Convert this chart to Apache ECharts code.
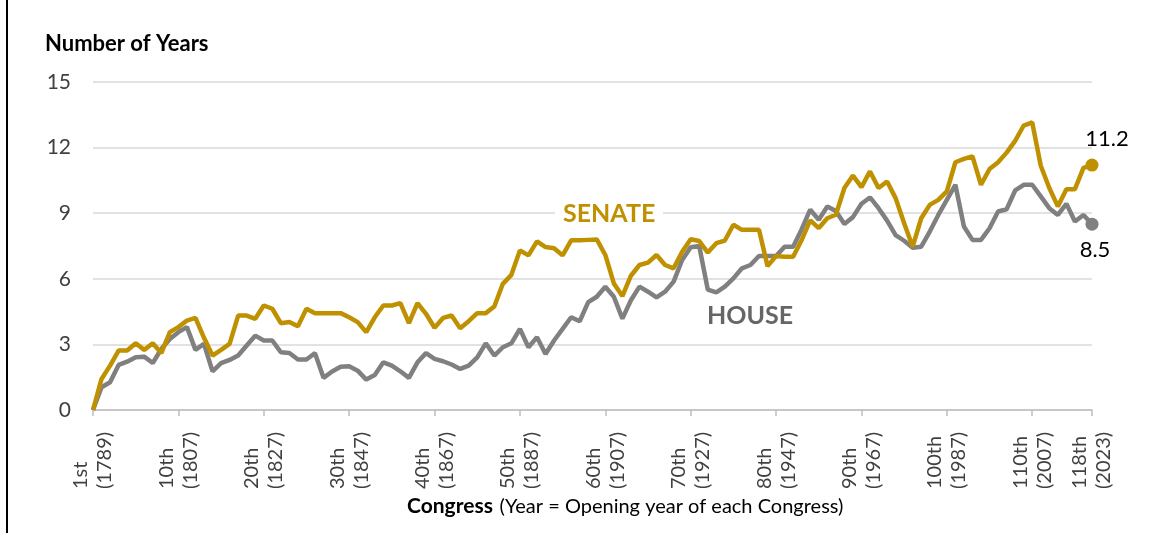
<!DOCTYPE html>
<html>
<head>
<meta charset="utf-8">
<script src="https://cdn.jsdelivr.net/npm/echarts@6/dist/echarts.min.js"></script>
<style>
  html, body { margin: 0; padding: 0; background: #fff; }
  .line { width: 1154px; height: 533px; }
</style>
</head>
<body>
<div class="line"></div>
<script>
// Average years of prior service, by Congress (1st .. 118th)
const senateYears = [
  0, 1.42, 2.03, 2.72, 2.72, 3.05, 2.75, 3.05, 2.6, 3.56,
  3.79, 4.09, 4.21, 3.3, 2.49, 2.75, 3.02, 4.32, 4.32, 4.17,
  4.78, 4.63, 3.97, 4.02, 3.83, 4.63, 4.43, 4.43, 4.43, 4.43,
  4.24, 4.02, 3.56, 4.24, 4.78, 4.78, 4.89, 3.97, 4.89, 4.4,
  3.76, 4.21, 4.32, 3.74, 4.06, 4.43, 4.43, 4.73, 5.77, 6.18,
  7.3, 7.07, 7.71, 7.45, 7.4, 7.07, 7.76, 7.76, 7.78, 7.8,
  7.09, 5.79, 5.21, 6.14, 6.63, 6.74, 7.09, 6.63, 6.48, 7.24,
  7.81, 7.73, 7.2, 7.63, 7.75, 8.47, 8.24, 8.24, 8.24, 6.58,
  7.04, 7.01, 7.01, 7.78, 8.67, 8.32, 8.77, 8.93, 10.15, 10.72,
  10.19, 10.91, 10.15, 10.45, 9.69, 8.54, 7.47, 8.77, 9.38, 9.61,
  10.0, 11.33, 11.48, 11.6, 10.3, 11.02, 11.33, 11.77, 12.31, 13.01,
  13.15, 11.17, 10.15, 9.31, 10.1, 10.1, 11.07, 11.2,
];
const houseYears = [
  0, 1.04, 1.27, 2.06, 2.21, 2.41, 2.44, 2.15, 2.79, 3.25,
  3.56, 3.79, 2.75, 3.02, 1.77, 2.14, 2.29, 2.49, 2.95, 3.4,
  3.18, 3.18, 2.64, 2.61, 2.31, 2.31, 2.6, 1.47, 1.76, 1.98,
  2.0, 1.8, 1.39, 1.6, 2.18, 2.03, 1.77, 1.47, 2.18, 2.6,
  2.34, 2.23, 2.08, 1.88, 2.03, 2.41, 3.05, 2.49, 2.87, 3.05,
  3.71, 2.87, 3.33, 2.56, 3.18, 3.71, 4.24, 4.06, 4.93, 5.18,
  5.64, 5.18, 4.18, 5.02, 5.64, 5.41, 5.15, 5.41, 5.87, 6.86,
  7.44, 7.5, 5.51, 5.38, 5.64, 6.02, 6.48, 6.63, 7.04, 7.04,
  7.04, 7.47, 7.47, 8.27, 9.16, 8.7, 9.31, 9.1, 8.51, 8.82,
  9.43, 9.72, 9.23, 8.66, 8.0, 7.74, 7.42, 7.47, 8.16, 8.92,
  9.61, 10.3, 8.39, 7.78, 7.78, 8.31, 9.08, 9.18, 10.04, 10.3,
  10.3, 9.77, 9.23, 8.92, 9.43, 8.62, 8.92, 8.5,
];

// x labels only shown at these positions
const tickIndex = [0, 10, 20, 30, 40, 50, 60, 70, 80, 90, 100, 110, 117];
const tickLabels = [
  "1st\n(1789)", "10th\n(1807)", "20th\n(1827)", "30th\n(1847)", "40th\n(1867)",
  "50th\n(1887)", "60th\n(1907)", "70th\n(1927)", "80th\n(1947)", "90th\n(1967)",
  "100th\n(1987)", "110th\n(2007)", "118th\n(2023)",
];
const yTicks = [0, 3, 6, 9, 12, 15];

function ordinal(n) {
  let s = ["th", "st", "nd", "rd"];
  let v = n % 100;
  return n + (s[(v - 20) % 10] || s[v] || s[0]);
}
const congresses = senateYears.map((v, i) => ordinal(i + 1));

const GOLD = "#BF9000";
const GRAY = "#808080";
const FONT = "Lato";

function setLine() {
  let myChart = echarts.init(document.querySelector(".line"));

  // last point gets a dot + value label
  function withEnd(arr, labelPos, offset) {
    return arr.map(function (v, i) {
      if (i < arr.length - 1) return v;
      return {
        value: v,
        symbol: "circle",
        symbolSize: 13,
        label: {
          show: true,
          position: labelPos,
          offset: offset,
          formatter: function (p) {
            return p.value.toFixed(1);
          },
          color: "#000",
          fontFamily: FONT,
          fontSize: 22,
        },
      };
    });
  }

  let option = {
    animation: false,
    textStyle: { fontFamily: FONT },
    grid: {
      left: 93,
      right: 62,
      top: 82,
      bottom: 123,
    },
    xAxis: {
      type: "category",
      boundaryGap: false,
      data: congresses,
      axisLine: { lineStyle: { color: "#BFBFBF", width: 1.5 } },
      axisTick: {
        show: true,
        length: 6,
        lineStyle: { color: "#BFBFBF", width: 1.5 },
        interval: function (index) {
          return tickIndex.indexOf(index) >= 0;
        },
      },
      axisLabel: {
        interval: 0,
        rotate: 90,
        align: "left",
        verticalAlign: "middle",
        margin: 79,
        color: "#404040",
        fontFamily: FONT,
        fontSize: 20,
        lineHeight: 24,
        formatter: function (value, index) {
          let k = tickIndex.indexOf(index);
          return k >= 0 ? tickLabels[k] : "";
        },
      },
      splitLine: { show: false },
    },
    yAxis: {
      type: "value",
      min: yTicks[0],
      max: yTicks[yTicks.length - 1],
      interval: 3,
      axisLine: { show: false },
      axisTick: { show: false },
      axisLabel: {
        margin: 22,
        color: "#404040",
        fontFamily: FONT,
        fontSize: 21,
      },
      splitLine: { lineStyle: { color: "#D9D9D9", width: 1.5 } },
    },
    series: [
      {
        name: "House",
        type: "line",
        symbol: "none",
        lineStyle: { color: GRAY, width: 4.5 },
        itemStyle: { color: GRAY },
        data: withEnd(houseYears, "bottom", [3, 3]),
      },
      {
        name: "Senate",
        type: "line",
        symbol: "none",
        lineStyle: { color: GOLD, width: 4.5 },
        itemStyle: { color: GOLD },
        data: withEnd(senateYears, "top", [15, -4]),
      },
    ],
    graphic: [
      {
        type: "text",
        left: 45,
        top: 33,
        style: {
          text: "Number of Years",
          fill: "#000",
          font: "bold 22px " + FONT,
        },
      },
      {
        // white box hides the gridline behind the label
        type: "rect",
        z: 50,
        shape: { x: 555, y: 205, width: 108, height: 18 },
        style: { fill: "#fff" },
      },
      {
        type: "text",
        z: 51,
        left: 563,
        top: 201,
        style: {
          text: "SENATE",
          fill: GOLD,
          font: "bold 25px " + FONT,
        },
      },
      {
        type: "text",
        left: 707,
        top: 303,
        style: {
          text: "HOUSE",
          fill: "#666666",
          font: "bold 25px " + FONT,
        },
      },
      {
        type: "text",
        left: 407,
        top: 496,
        style: {
          rich: {
            b: { font: "bold 21px " + FONT, fill: "#000" },
            n: { font: "20px " + FONT, fill: "#000" },
          },
          text: "{b|Congress}  {n|(Year = Opening year of each Congress)}",
        },
      },
      // chart frame (left edge)
      {
        type: "line",
        shape: { x1: 7, y1: 0, x2: 7, y2: 533 },
        style: { stroke: "#000", lineWidth: 2 },
      },
    ],
  };
  myChart.setOption(option);
}
//调用
setLine();
</script>
</body>
</html>
